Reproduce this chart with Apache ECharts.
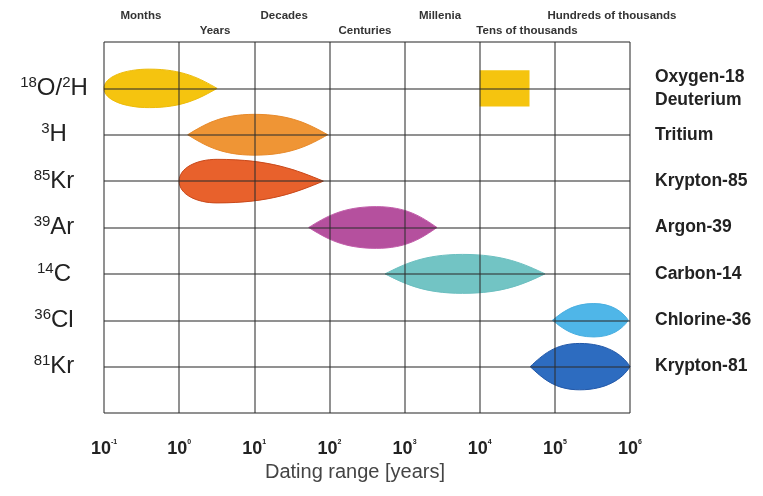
<!DOCTYPE html>
<html>
<head>
<meta charset="utf-8">
<script src="https://cdn.jsdelivr.net/npm/echarts@6/dist/echarts.min.js"></script>
<style>
  html, body { margin: 0; padding: 0; background: #fff; }
</style>
</head>
<body>
<div id="DatingChart" style="width: 763px;height:496px;"></div>
<script>
// isotopes, top to bottom
var isotopeLabels = ['{s|18}{b|O/}{s|2}{b|H}', '{s|3}{b|H}', '{s|85}{b|Kr}', '{s|39}{b|Ar}', '{s|14}{b|C}', '{s|36}{b|Cl}', '{s|81}{b|Kr}'];
var isotopeNames = ['Oxygen-18\nDeuterium', 'Tritium', 'Krypton-85', 'Argon-39', 'Carbon-14', 'Chlorine-36', 'Krypton-81'];

// dating range in years: start, widest point, end
var rangeStart = [0.1, 1.3, 1, 53, 550, 93000, 47000];
var rangePeak = [0.4, 10, 3.2, 420, 5900, 330000, 214000];
var rangeEnd = [3.2, 95, 83, 2700, 74000, 950000, 1000000];

// extra block for oxygen-18 / deuterium (paleo water)
var boxRow = [1];
var boxStart = [10000];
var boxEnd = [46000];

// time scale words on top
var periodNames = ['Months', 'Years', 'Decades', 'Centuries', 'Millenia', 'Tens of thousands', 'Hundreds of thousands'];
var periodAt = [0.31, 3, 25, 297, 2960, 42600, 575000];

// look of each shape: colour, outline, half thickness (rows), bluntness left/right
var shapeStyles = [
  { color: '#F5C40F', stroke: '#EDBB0A', half: 0.415, bl: 1, br: 0 },
  { color: '#EF9535', stroke: '#E88A2A', half: 0.44, bl: 0, br: 0 },
  { color: '#E8612C', stroke: '#C9491B', half: 0.47, bl: 1, br: 0 },
  { color: '#B5509E', stroke: '#C05AA8', half: 0.45, bl: 0, br: 0 },
  { color: '#72C4C4', stroke: '#6BBFC0', half: 0.42, bl: 0, br: 0 },
  { color: '#4FB6E8', stroke: '#48AEE0', half: 0.36, bl: 0, br: 0.3 },
  { color: '#2D6CC0', stroke: '#2258A8', half: 0.5, bl: 0, br: 0.4 }
];

var fontFamily = '"Liberation Sans", Arial, sans-serif';
var gridLine = { color: 'rgba(45,45,45,0.7)', width: 1.5 };

var chart = echarts.init(document.getElementById('DatingChart'));

function renderRange(params, api) {
  var st = shapeStyles[params.dataIndex];
  var row = api.value(0);
  var L = api.coord([api.value(1), row]);
  var P = api.coord([api.value(2), row]);
  var R = api.coord([api.value(3), row]);
  var top = api.coord([api.value(2), row - st.half]);
  var h = P[1] - top[1];
  var cy = P[1];
  var dL = P[0] - L[0];
  var dR = R[0] - P[0];
  // control points: blunt ends are round, pointed ends still bulge out (lens)
  var l1x = L[0] + dL * 0.25 * (1 - st.bl), l1y = h * (0.5 + 0.1 * st.bl);
  var l2x = P[0] - dL * (0.5 + 0.05 * st.bl);
  var r1x = R[0] - dR * 0.25 * (1 - st.br), r1y = h * (0.5 + 0.1 * st.br);
  var r2x = P[0] + dR * (0.5 + 0.05 * st.br);
  var d = 'M' + L[0] + ' ' + cy +
    ' C' + l1x + ' ' + (cy - l1y) + ' ' + l2x + ' ' + (cy - h) + ' ' + P[0] + ' ' + (cy - h) +
    ' C' + r2x + ' ' + (cy - h) + ' ' + r1x + ' ' + (cy - r1y) + ' ' + R[0] + ' ' + cy +
    ' C' + r1x + ' ' + (cy + r1y) + ' ' + r2x + ' ' + (cy + h) + ' ' + P[0] + ' ' + (cy + h) +
    ' C' + l2x + ' ' + (cy + h) + ' ' + l1x + ' ' + (cy + l1y) + ' ' + L[0] + ' ' + cy + ' Z';
  return {
    type: 'path',
    shape: { pathData: d },
    style: { fill: st.color, stroke: st.stroke, lineWidth: 1 }
  };
}

function renderBox(params, api) {
  var half = 0.39;
  var p0 = api.coord([api.value(1), api.value(0) - half]);
  var p1 = api.coord([api.value(2), api.value(0) + half]);
  return {
    type: 'rect',
    shape: { x: p0[0], y: p0[1], width: p1[0] - p0[0], height: p1[1] - p0[1] },
    style: { fill: '#F5C40F' }
  };
}

var option = {
  backgroundColor: '#fff',
  animation: false,
  grid: { left: 104, right: 133, top: 42, bottom: 83 },
  xAxis: {
    type: 'log',
    logBase: 10,
    min: 0.1,
    max: 1000000,
    z: 5,
    name: 'Dating range [years]',
    nameLocation: 'middle',
    nameGap: 47,
    nameTextStyle: { fontFamily: fontFamily, fontSize: 20, color: '#444', padding: [0, 24, 0, 0] },
    axisLine: { show: false },
    axisTick: { show: false },
    splitLine: { show: true, lineStyle: gridLine },
    axisLabel: {
      margin: 26,
      formatter: function (v) {
        return '{b|10}{e|' + Math.round(Math.log10(v)) + '}';
      },
      rich: {
        b: { fontFamily: fontFamily, fontSize: 18, fontWeight: 'bold', color: '#222', lineHeight: 20 },
        e: { fontFamily: fontFamily, fontSize: 7, fontWeight: 'bold', color: '#222', verticalAlign: 'top', lineHeight: 10 }
      }
    }
  },
  yAxis: [
    {
      type: 'value',
      min: 0,
      max: 8,
      interval: 1,
      inverse: true,
      z: 5,
      axisLine: { show: false },
      axisTick: { show: false },
      splitLine: { show: true, lineStyle: gridLine },
      axisLabel: {
        margin: 50,
        align: 'center',
        formatter: function (v) { return isotopeLabels[v - 1] || ''; },
        rich: {
          b: { fontFamily: fontFamily, fontSize: 24, color: '#222', lineHeight: 26 },
          s: { fontFamily: fontFamily, fontSize: 15, color: '#222', verticalAlign: 'top', lineHeight: 15 }
        }
      }
    },
    {
      type: 'value',
      position: 'right',
      min: 0,
      max: 8,
      interval: 1,
      inverse: true,
      axisLine: { show: false },
      axisTick: { show: false },
      splitLine: { show: false },
      axisLabel: {
        margin: 25,
        align: 'left',
        fontFamily: fontFamily,
        fontSize: 17.5,
        fontWeight: 'bold',
        color: '#222',
        lineHeight: 23,
        formatter: function (v) { return isotopeNames[v - 1] || ''; }
      }
    }
  ],
  series: [
    {
      type: 'custom',
      name: 'range',
      z: 2,
      renderItem: renderRange,
      encode: { x: [1, 2, 3], y: 0 },
      data: rangeStart.map(function (s, i) {
        return [i + 1, s, rangePeak[i], rangeEnd[i]];
      })
    },
    {
      type: 'custom',
      name: 'box',
      z: 2,
      renderItem: renderBox,
      encode: { x: [1, 2], y: 0 },
      data: boxRow.map(function (r, i) {
        return [r, boxStart[i], boxEnd[i]];
      })
    }
  ]
};
chart.setOption(option);

// words of the time scale, placed over their part of the log axis
chart.setOption({
  graphic: periodNames.map(function (name, i) {
    var x = chart.convertToPixel({ xAxisIndex: 0 }, periodAt[i]);
    return {
      type: 'text',
      x: x,
      y: i % 2 === 0 ? 16 : 31,
      style: {
        text: name,
        fontFamily: fontFamily,
        fontSize: 11.5,
        fontWeight: 'bold',
        fill: '#333',
        align: 'center',
        verticalAlign: 'middle'
      }
    };
  })
});
</script>
</body>
</html>
